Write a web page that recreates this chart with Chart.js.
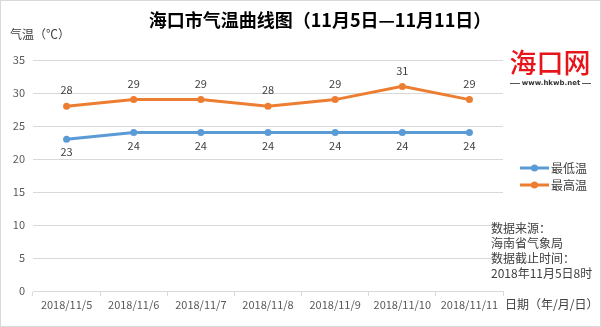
<!DOCTYPE html>
<html><head><meta charset="utf-8">
<script src="https://cdn.jsdelivr.net/npm/chart.js@4.4.0/dist/chart.umd.min.js"></script>
<style>html,body{margin:0;padding:0;background:#fff;}#wrap{width:601px;height:327px;position:relative;}</style>
</head><body><div id="wrap"><canvas id="c" width="601" height="327"></canvas></div>
<script>
const categories = ['2018/11/5','2018/11/6','2018/11/7','2018/11/8','2018/11/9','2018/11/10','2018/11/11'];
const lowTemps = [23,24,24,24,24,24,24];
const highTemps = [28,29,29,28,29,31,29];
const yTicks = [0,5,10,15,20,25,30,35];
const seriesNames = ['最低温','最高温'];
const titleText = '海口市气温曲线图（11月5日—11月11日）';
const yTitle = '气温（℃）';
const xTitle = '日期（年/月/日）';
const noteLines = ['数据来源：','海南省气象局','数据截止时间：','2018年11月5日8时'];

const BLUE = '#5B9BD5', ORANGE = '#ED7D31', TXT = '#404040';
const FONT = '"Noto Sans CJK SC", "Noto Sans", sans-serif';

const extras = {
  id: 'extras',
  afterDatasetsDraw(chart) {
    const ctx = chart.ctx;
    ctx.save();
    ctx.font = '11px ' + FONT;
    ctx.fillStyle = TXT;
    ctx.textAlign = 'center';
    ctx.textBaseline = 'middle';
    chart.data.datasets.forEach((ds, i) => {
      const meta = chart.getDatasetMeta(i);
      meta.data.forEach((pt, j) => {
        const off = i === 0 ? 13 : -16;
        ctx.fillText(String(ds.data[j]), pt.x, pt.y + off);
      });
    });
    ctx.restore();
  },
  afterDraw(chart) {
    const ctx = chart.ctx;
    ctx.save();
    ctx.strokeStyle = '#d9d9d9';
    ctx.lineWidth = 1;
    ctx.strokeRect(0.5, 0.5, 600, 326);
    ctx.fillStyle = '#000';
    ctx.font = 'bold 18px ' + FONT;
    ctx.textAlign = 'center';
    ctx.textBaseline = 'middle';
    ctx.fillText(titleText, 320, 20);
    ctx.font = '12px ' + FONT;
    ctx.fillStyle = TXT;
    ctx.textAlign = 'left';
    ctx.fillText(yTitle, 10, 34);
    ctx.fillText(xTitle, 505, 304);
    const legY = [168, 185];
    chart.data.datasets.forEach((ds, i) => {
      const y = legY[i];
      ctx.strokeStyle = ds.borderColor;
      ctx.lineWidth = 3;
      ctx.beginPath(); ctx.moveTo(520, y); ctx.lineTo(549, y); ctx.stroke();
      ctx.fillStyle = ds.borderColor;
      ctx.beginPath(); ctx.arc(534.5, y, 3.5, 0, Math.PI * 2); ctx.fill();
      ctx.fillStyle = TXT;
      ctx.font = '12px ' + FONT;
      ctx.fillText(ds.label, 551, y);
    });
    noteLines.forEach((t, i) => {
      ctx.fillText(t, 491, 228 + i * 15);
    });
    ctx.fillStyle = '#e8141b';
    ctx.font = '500 27px "Noto Sans CJK SC", sans-serif';
    ctx.textAlign = 'center';
    ctx.fillText('海口网', 550, 63);
    ctx.fillStyle = '#333';
    ctx.font = 'bold 7px "DejaVu Sans", sans-serif';
    ctx.fillText('www.hkwb.net', 551, 83);
    ctx.strokeStyle = '#555';
    ctx.lineWidth = 1;
    ctx.beginPath(); ctx.moveTo(510, 83.5); ctx.lineTo(520, 83.5); ctx.moveTo(582, 83.5); ctx.lineTo(591, 83.5); ctx.stroke();
    ctx.restore();
  }
};

new Chart(document.getElementById('c'), {
  type: 'line',
  data: {
    labels: categories,
    datasets: [
      { label: seriesNames[0], data: lowTemps, borderColor: BLUE, backgroundColor: BLUE, borderWidth: 3, pointRadius: 3.5, pointBackgroundColor: BLUE, pointBorderWidth: 0, tension: 0 },
      { label: seriesNames[1], data: highTemps, borderColor: ORANGE, backgroundColor: ORANGE, borderWidth: 3, pointRadius: 3.5, pointBackgroundColor: ORANGE, pointBorderWidth: 0, tension: 0 }
    ]
  },
  options: {
    responsive: false,
    animation: false,
    devicePixelRatio: 1,
    layout: { padding: { left: 0, right: 98, top: 60, bottom: 0 } },
    plugins: { legend: { display: false }, title: { display: false }, tooltip: { enabled: false } },
    scales: {
      x: {
        offset: true,
        grid: { display: true, offset: true, drawOnChartArea: false, drawTicks: true, tickLength: 5, color: '#d9d9d9' },
        border: { display: true, color: '#d9d9d9' },
        ticks: { color: '#595959', font: { size: 11, family: FONT }, maxRotation: 0, autoSkip: false, padding: 2 },
        afterFit(s) { s.height = 36; }
      },
      y: {
        min: 0, max: 35,
        afterBuildTicks(s) { s.ticks = yTicks.map(v => ({ value: v })); },
        grid: { color: '#d9d9d9', drawTicks: false },
        border: { display: false },
        ticks: { color: '#595959', font: { size: 11, family: FONT }, padding: 8 },
        afterFit(s) { s.width = 33; }
      }
    }
  },
  plugins: [extras]
});
</script></body></html>
